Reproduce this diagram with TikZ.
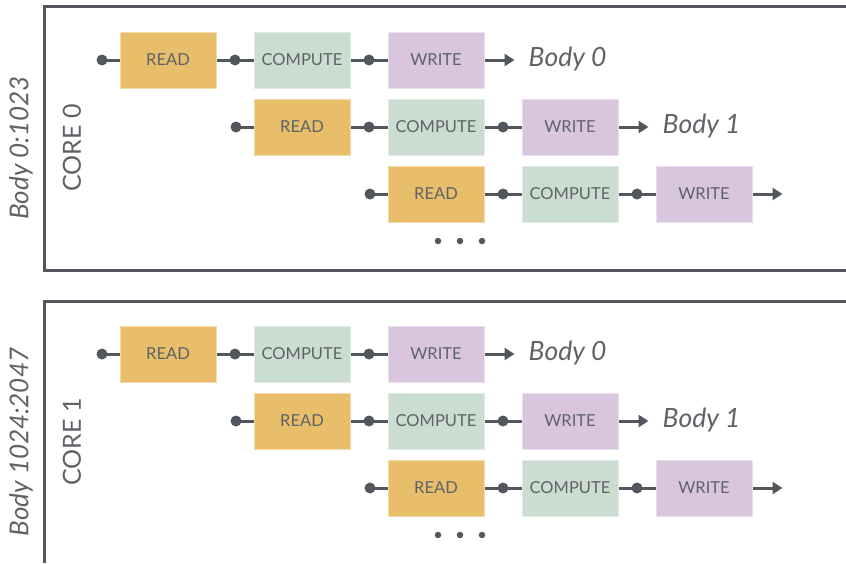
\documentclass[tikz,border=0pt]{standalone}
\usepackage{fontspec}
\setmainfont{Lato}
\usetikzlibrary{arrows.meta}
\definecolor{ink}{HTML}{52565D}
\definecolor{txt}{HTML}{5F6368}
\definecolor{readc}{HTML}{E8BE6A}
\definecolor{compc}{HTML}{CBDCD1}
\definecolor{writec}{HTML}{D9C6DE}
\tikzset{
  stage/.style={minimum width=96pt, minimum height=56pt, inner sep=0pt, text=txt, font=\fontsize{16.5}{16.5}\selectfont, line width=1pt},
  readbox/.style={stage, fill=readc, draw=readc!55!white},
  compbox/.style={stage, fill=compc, draw=compc!55!white},
  writebox/.style={stage, fill=writec, draw=writec!55!white},
  conn/.style={draw=ink, line width=3pt},
  dot/.style={circle, fill=ink, inner sep=0pt, minimum size=11pt},
  smalldot/.style={circle, fill=ink, inner sep=0pt, minimum size=6.5pt},
  frame/.style={draw=ink, line width=3pt},
  bodylbl/.style={text=txt, font=\fontsize{26.5}{26.5}\selectfont\itshape, anchor=west, inner sep=0pt},
  sidelbl/.style={text=txt, font=\fontsize{25}{25}\selectfont, rotate=90, inner sep=0pt}
}
\begin{document}
\begin{tikzpicture}[x=1pt, y=-1pt]
\useasboundingbox (0,0) rectangle (846,563);
\fill[white] (0,0) rectangle (846,563);
\draw[frame] (846,6) -- (44,6) -- (44,270) -- (846,270);
\draw[frame] (846,301) -- (44,301) -- (44,563);
\foreach \p/\oy/\core/\rng in {a/0/CORE 0/Body 0:1023, b/294/CORE 1/Body 1024:2047} {
  \node[sidelbl, font=\fontsize{26}{26}\selectfont\itshape] (rng\p) at (21,{148+\oy}) {\rng};
  \node[sidelbl] (core\p) at (72,{148+\oy}) {\core};
  \foreach \r in {0,1,2} {
    \pgfmathsetmacro\yy{60+67*\r+\oy}
    \node[readbox] (\p r\r) at ({168+134*\r},\yy) {READ};
    \node[compbox] (\p c\r) at ({302+134*\r},\yy) {COMPUTE};
    \node[writebox] (\p w\r) at ({436+134*\r},\yy) {WRITE};
    \coordinate (\p s\r) at ({102+134*\r},\yy);
    \coordinate (\p e\r) at ([xshift=30pt]\p w\r.east);
    \draw[conn] (\p s\r) -- (\p r\r);
    \node[dot] at (\p s\r) {};
    \draw[conn] (\p r\r) -- node[dot]{} (\p c\r);
    \draw[conn] (\p c\r) -- node[dot]{} (\p w\r);
    \draw[conn, -{Triangle[length=10pt,width=12pt]}] (\p w\r) -- (\p e\r);
  }
  \node[bodylbl] (\p b0) at ([xshift=14pt,yshift=1pt]\p e0) {Body 0};
  \node[bodylbl] (\p b1) at ([xshift=14pt,yshift=1pt]\p e1) {Body 1};
  \node[smalldot] (\p d1) at (438,{241+\oy}) {};
  \node[smalldot] (\p d2) at (460,{241+\oy}) {};
  \node[smalldot] (\p d3) at (482,{241+\oy}) {};
}
\end{tikzpicture}
\end{document}
